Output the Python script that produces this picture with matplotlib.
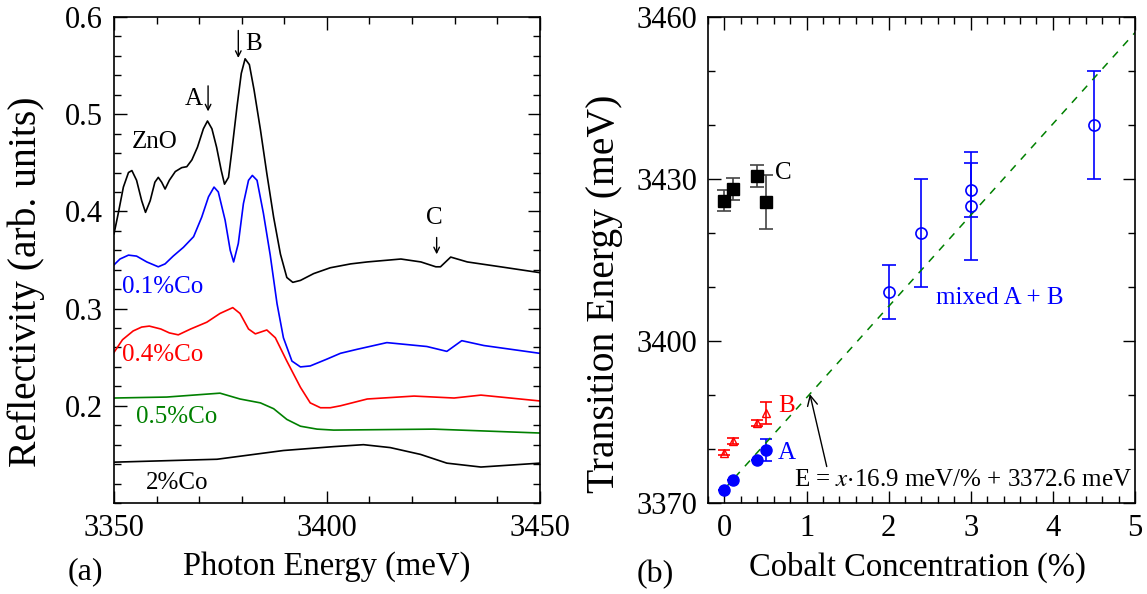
import numpy as np
import matplotlib.pyplot as plt
from matplotlib.ticker import MultipleLocator

plt.rcParams['font.family'] = ['Liberation Serif', 'DejaVu Serif']
plt.rcParams['mathtext.fontset'] = 'stix'

# ---- panel (a): reflectivity spectra ----
e_zno = [3350, 3351.0, 3352.2, 3353.4, 3354.2, 3355.3, 3356.5, 3357.4, 3358.5, 3359.6, 3360.4,
         3361.2, 3362.0, 3363.0, 3364.4, 3365.9, 3367.1, 3368.3, 3369.6, 3371.0, 3371.96, 3373.0,
         3374.1, 3375.2, 3375.96, 3376.9, 3377.7, 3378.9, 3379.9, 3380.8, 3381.8, 3382.9, 3384.4,
         3385.9, 3387.5, 3389.1, 3390.6, 3392.0, 3393.8, 3396.9, 3400.8, 3405.6, 3409.5, 3417.4,
         3422.1, 3425.6, 3426.7, 3429.1, 3433.0, 3440.8, 3450]
r_zno = [0.377, 0.398, 0.425, 0.440, 0.442, 0.432, 0.411, 0.399, 0.411, 0.430, 0.435,
         0.430, 0.423, 0.432, 0.441, 0.445, 0.446, 0.453, 0.466, 0.485, 0.493, 0.485,
         0.466, 0.442, 0.428, 0.435, 0.463, 0.508, 0.542, 0.557, 0.551, 0.525, 0.484,
         0.439, 0.394, 0.356, 0.332, 0.327, 0.329, 0.336, 0.342, 0.346, 0.348, 0.351,
         0.348, 0.343, 0.343, 0.353, 0.348, 0.343, 0.337]

e_01 = [3350, 3351.4, 3353.4, 3355.3, 3357.7, 3360.4, 3362.0, 3363.9, 3366.3, 3368.7, 3370.6,
        3372.2, 3373.5, 3374.5, 3376.1, 3377.3, 3378.1, 3379.2, 3380.4, 3381.6, 3382.5, 3383.6,
        3385.1, 3386.7, 3388.3, 3389.8, 3391.8, 3393.8, 3396.1, 3400.0, 3403.2, 3407.0, 3414.1,
        3423.5, 3428.2, 3431.7, 3436.9, 3450]
r_01 = [0.345, 0.351, 0.355, 0.354, 0.348, 0.343, 0.346, 0.354, 0.363, 0.374, 0.394,
        0.415, 0.425, 0.420, 0.391, 0.360, 0.348, 0.367, 0.408, 0.432, 0.437, 0.432,
        0.398, 0.355, 0.305, 0.270, 0.246, 0.240, 0.241, 0.248, 0.254, 0.258, 0.265,
        0.261, 0.256, 0.267, 0.262, 0.254]

e_04 = [3350, 3352.0, 3354.5, 3356.5, 3358.3, 3361.0, 3363.0, 3365.1, 3368.0, 3371.8, 3374.9,
        3377.9, 3379.6, 3381.6, 3383.2, 3385.9, 3387.9, 3390.6, 3393.8, 3396.1, 3398.5, 3400.8,
        3403.2, 3409.5, 3420.5, 3429.9, 3436.2, 3450]
r_04 = [0.255, 0.268, 0.277, 0.281, 0.282, 0.279, 0.275, 0.273, 0.279, 0.286, 0.295,
        0.301, 0.295, 0.279, 0.274, 0.278, 0.270, 0.246, 0.219, 0.203, 0.198, 0.198,
        0.200, 0.207, 0.210, 0.208, 0.211, 0.205]

e_05 = [3350, 3362.4, 3374.9, 3379.6, 3384.4, 3387.5, 3390.6, 3393.8, 3397.7, 3401.6, 3425.1, 3450]
r_05 = [0.208, 0.209, 0.213, 0.207, 0.203, 0.197, 0.186, 0.179, 0.176, 0.175, 0.176, 0.172]

e_2 = [3350, 3374.2, 3389.8, 3401.6, 3408.6, 3414.9, 3422.0, 3428.2, 3436.2, 3450]
r_2 = [0.142, 0.145, 0.154, 0.158, 0.160, 0.157, 0.150, 0.141, 0.137, 0.141]

# ---- panel (b): transition energies ----
x_c = [0.0, 0.1, 0.4, 0.5]
e_c = [3426.0, 3428.1, 3430.6, 3425.7]
err_c = [2, 2, 2, 5]

x_a = [0.0, 0.1, 0.4, 0.5]
e_a = [3372.4, 3374.3, 3378.0, 3379.8]
err_a = [0, 0, 0, 2]

x_b = [0.0, 0.1, 0.4, 0.5]
e_b = [3379.3, 3381.5, 3384.8, 3386.7]
err_b = [0.5, 0.5, 0.5, 2]

x_mix = [2.0, 2.4, 3.0, 3.0, 4.5]
e_mix = [3409.1, 3420.0, 3428.0, 3425.0, 3440.0]
err_mix = [5, 10, 5, 10, 10]

slope = 16.9
offset = 3372.6

fig = plt.figure(figsize=(11.47, 5.94), dpi=100)
ax1 = fig.add_axes([0.0994, 0.1532, 0.3711, 0.8182])
ax2 = fig.add_axes([0.6173, 0.1532, 0.3722, 0.8182])

lw = 1.2
ax1.plot(e_zno, r_zno, color='black', lw=lw)
ax1.plot(e_01, r_01, color='blue', lw=lw)
ax1.plot(e_04, r_04, color='red', lw=lw)
ax1.plot(e_05, r_05, color='green', lw=lw)
ax1.plot(e_2, r_2, color='black', lw=lw)

ax1.set_xlim(3350, 3450)
ax1.set_ylim(0.1, 0.6)
ax1.xaxis.set_major_locator(MultipleLocator(50))
ax1.xaxis.set_minor_locator(MultipleLocator(10))
ax1.yaxis.set_minor_locator(MultipleLocator(0.02))
ax1.set_yticks([0.2, 0.3, 0.4, 0.5, 0.6])

fs_lab = 18
ax1.text(3359.6, 0.471, 'ZnO', fontsize=fs_lab, ha='center', va='center')
ax1.text(3368.8, 0.516, 'A', fontsize=fs_lab, ha='center', va='center')
ax1.text(3382.7, 0.572, 'B', fontsize=fs_lab, ha='center', va='center')
ax1.text(3425.3, 0.393, 'C', fontsize=fs_lab, ha='center', va='center')
for xa, y0, y1 in [(3372.1, 0.532, 0.500), (3379.2, 0.589, 0.555), (3425.8, 0.376, 0.353)]:
    ax1.annotate('', xy=(xa, y1), xytext=(xa, y0),
                 arrowprops=dict(arrowstyle='->', color='black', lw=1.0))
ax1.text(3361.5, 0.322, '0.1%Co', fontsize=fs_lab, color='blue', ha='center', va='center')
ax1.text(3361.5, 0.252, '0.4%Co', fontsize=fs_lab, color='red', ha='center', va='center')
ax1.text(3364.6, 0.188, '0.5%Co', fontsize=fs_lab, color='green', ha='center', va='center')
ax1.text(3364.8, 0.121, '2%Co', fontsize=fs_lab, color='black', ha='center', va='center')

ax1.set_xlabel('Photon Energy (meV)', fontsize=23.5, va='top')
ax1.set_ylabel('Reflectivity (arb. units)', fontsize=28.5)
ax1.xaxis.set_label_coords(0.5, -0.1)
ax1.yaxis.set_label_coords(-0.163, 0.455)
fig.text(0.074, 0.037, '(a)', fontsize=23, ha='center', va='center')

# panel (b)
ax2.errorbar(x_c, e_c, yerr=err_c, fmt='s', color='black', ecolor='#444444',
             ms=8, capsize=5, elinewidth=1.2, capthick=1.2)
ax2.errorbar(x_b, e_b, yerr=err_b, fmt='^', color='red', mfc='none',
             ms=6, capsize=4, elinewidth=1.2, capthick=1.2)
ax2.errorbar(x_a, e_a, yerr=err_a, fmt='o', color='blue',
             ms=8, capsize=4, elinewidth=1.2, capthick=1.2)
ax2.errorbar(x_mix, e_mix, yerr=err_mix, fmt='o', color='blue', mfc='none',
             ms=8, mew=1.2, capsize=5, elinewidth=1.2, capthick=1.2)

xf = np.array([0.0, 5.3])
ax2.plot(xf, slope * xf + offset, color='green', ls=(0, (5, 5)), lw=1.1)

ax2.set_xlim(-0.2, 5)
ax2.set_ylim(3370, 3460)
ax2.xaxis.set_major_locator(MultipleLocator(1))
ax2.xaxis.set_minor_locator(MultipleLocator(0.2))
ax2.set_yticks([3370, 3400, 3430, 3460])
ax2.set_yticks(np.arange(3370, 3461, 10), minor=True)

ax2.text(0.72, 3431.2, 'C', fontsize=fs_lab, color='black', ha='center', va='center')
ax2.text(0.76, 3388.0, 'B', fontsize=fs_lab, color='red', ha='center', va='center')
ax2.text(0.76, 3379.2, 'A', fontsize=fs_lab, color='blue', ha='center', va='center')
ax2.text(3.35, 3408.0, 'mixed A + B', fontsize=fs_lab, color='blue', ha='center', va='center')
ax2.annotate(r'E = $x$$\cdot$16.9 meV/% + 3372.6 meV',
             xy=(1.04, slope * 1.04 + offset), xytext=(2.9, 3374.2),
             fontsize=fs_lab, ha='center', va='center',
             arrowprops=dict(arrowstyle='->', color='black', lw=1.0,
                             shrinkA=0, shrinkB=0, relpos=(0.1, 1.0)))

ax2.set_xlabel('Cobalt Concentration (%)', fontsize=23.5, va='top')
ax2.set_ylabel('Transition Energy (meV)', fontsize=28.5)
ax2.xaxis.set_label_coords(0.49, -0.1)
ax2.yaxis.set_label_coords(-0.2, 0.43)
fig.text(0.571, 0.033, '(b)', fontsize=23, ha='center', va='center')

for ax in (ax1, ax2):
    ax.tick_params(which='both', direction='in', top=True, right=True, labelsize=22)
    ax.tick_params(which='major', length=9, width=1.0, pad=8)
    ax.tick_params(which='minor', length=5, width=1.0)
    for s in ax.spines.values():
        s.set_linewidth(1.2)

plt.savefig('out.png', dpi=100)
